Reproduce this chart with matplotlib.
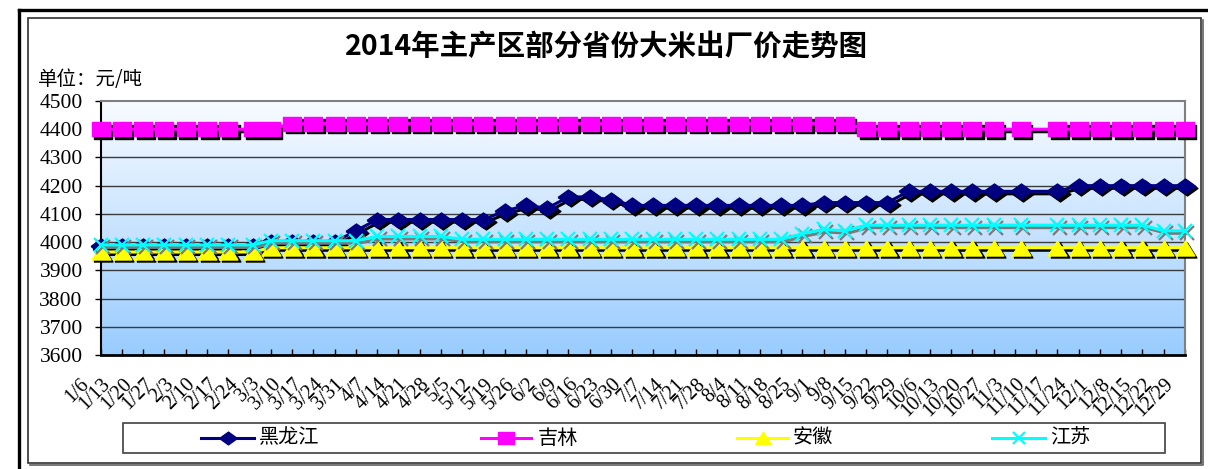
import datetime as dt
import numpy as np
import matplotlib
matplotlib.use('Agg')
import matplotlib.pyplot as plt
from matplotlib.transforms import offset_copy, ScaledTranslation
from matplotlib.lines import Line2D
from matplotlib.patches import Rectangle

plt.rcParams['font.family'] = ['Noto Sans CJK SC', 'DejaVu Sans']

# ---------------- data ----------------
title = '2014年主产区部分省份大米出厂价走势图'
unit_label = '单位：元/吨'
series_names = ['黑龙江', '吉林', '安徽', '江苏']

point_dates = ['1/6', '1/13', '1/20', '1/27', '2/3', '2/10', '2/17', '2/25',
               '3/3', '3/10', '3/17', '3/24', '3/31', '4/7', '4/14', '4/21',
               '4/28', '5/5', '5/12', '5/19', '5/26', '6/2', '6/9', '6/16',
               '6/23', '6/30', '7/7', '7/14', '7/21', '7/28', '8/4', '8/11',
               '8/18', '8/25', '9/1', '9/8', '9/15', '9/22', '9/29', '10/6',
               '10/13', '10/20', '10/27', '11/5', '11/17', '11/24', '12/1',
               '12/8', '12/15', '12/22', '12/29']

heilongjiang = [3985, 3985, 3985, 3985, 3985, 3985, 3985, 3985,
                4000, 4000, 4000, 4000, 4040, 4080, 4080, 4080,
                4080, 4080, 4080, 4110, 4130, 4120, 4160, 4160,
                4150, 4130, 4130, 4130, 4130, 4130, 4130, 4130,
                4130, 4130, 4140, 4140, 4140, 4140, 4180, 4180,
                4180, 4180, 4180, 4180, 4180, 4200, 4200,
                4200, 4200, 4200, 4200]

jilin = [4400, 4400, 4400, 4400, 4400, 4400, 4400, 4400,
         4400, 4420, 4420, 4420, 4420, 4420, 4420, 4420,
         4420, 4420, 4420, 4420, 4420, 4420, 4420, 4420,
         4420, 4420, 4420, 4420, 4420, 4420, 4420, 4420,
         4420, 4420, 4420, 4420, 4400, 4400, 4400, 4400,
         4400, 4400, 4400, 4400, 4400, 4400, 4400,
         4400, 4400, 4400, 4400]

anhui = [3965, 3965, 3965, 3965, 3965, 3965, 3965, 3965,
         3980, 3980, 3980, 3980, 3980, 3980, 3980, 3980,
         3980, 3980, 3980, 3980, 3980, 3980, 3980, 3980,
         3980, 3980, 3980, 3980, 3980, 3980, 3980, 3980,
         3980, 3980, 3980, 3980, 3980, 3980, 3980, 3980,
         3980, 3980, 3980, 3980, 3980, 3980, 3980,
         3980, 3980, 3980, 3980]

jiangsu = [3990, 3990, 3990, 3990, 3990, 3990, 3990, 3990,
           4005, 4005, 4005, 4005, 4005, 4020, 4020, 4020,
           4020, 4010, 4010, 4010, 4010, 4010, 4010, 4010,
           4010, 4010, 4010, 4010, 4010, 4010, 4010, 4010,
           4010, 4030, 4045, 4040, 4060, 4060, 4060, 4060,
           4060, 4060, 4060, 4060, 4060, 4060, 4060,
           4060, 4060, 4040, 4040]

tick_labels = ['1/6', '1/13', '1/20', '1/27', '2/3', '2/10', '2/17', '2/24',
               '3/3', '3/10', '3/17', '3/24', '3/31', '4/7', '4/14', '4/21',
               '4/28', '5/5', '5/12', '5/19', '5/26', '6/2', '6/9', '6/16',
               '6/23', '6/30', '7/7', '7/14', '7/21', '7/28', '8/4', '8/11',
               '8/18', '8/25', '9/1', '9/8', '9/15', '9/22', '9/29', '10/6',
               '10/13', '10/20', '10/27', '11/3', '11/10', '11/17', '11/24',
               '12/1', '12/8', '12/15', '12/22', '12/29']

y_ticks = [3600, 3700, 3800, 3900, 4000, 4100, 4200, 4300, 4400, 4500]


def to_date(s):
    m, d = s.split('/')
    return dt.datetime(2014, int(m), int(d))


x_pts = [to_date(s) for s in point_dates]
x_ticks = [to_date(s) for s in tick_labels]

# ---------------- figure ----------------
W, H = 1208, 469
DPI = 100
fig = plt.figure(figsize=(W / DPI, H / DPI), dpi=DPI)
fig.patch.set_facecolor('white')


def fx(x):
    return x / W


def fy(y):
    return 1 - y / H


L, R, T, B = 100.7, 1185.0, 101.0, 355.0
ax = fig.add_axes([fx(L), fy(B), (R - L) / W, (B - T) / H])

# gradient background of plot area
top_c = np.array([0.975, 0.985, 1.0])
bot_c = np.array([0.60, 0.80, 1.0])
t = np.linspace(0, 1, 256)[:, None]
grad = top_c[None, :] * (1 - t) + bot_c[None, :] * t
grad = np.repeat(grad[:, None, :], 2, axis=1)
ax.imshow(grad, extent=[0, 1, 0, 1], transform=ax.transAxes,
          aspect='auto', zorder=0, interpolation='bilinear')

ax.set_xlim(x_ticks[0], x_ticks[-1])
ax.set_ylim(3600, 4500)

# grid
for yv in y_ticks[1:-1]:
    ax.axhline(yv, color='#3a3a3a', lw=1.0, zorder=1)

# markers
diamond = [(-1, 0), (0, 0.72), (1, 0), (0, -0.72), (-1, 0)]
square = [(-1, -0.8), (1, -0.8), (1, 0.8), (-1, 0.8), (-1, -0.8)]
triangle = [(-1, -0.8), (1, -0.8), (0, 0.8), (-1, -0.8)]

shadow_tr = offset_copy(ax.transData, fig=fig, x=2.5, y=-2.5, units='dots')

styles = [
    (heilongjiang, '#000080', diamond, 15.0, 2.2, 'black', 1.0),
    (jilin, '#FF00FF', square, 13.0, 2.2, 'black', 1.0),
    (anhui, '#FFFF00', triangle, 13.5, 2.2, 'black', 1.0),
    (jiangsu, '#00FFFF', 'x', 10.0, 2.2, '#7a7a7a', 1.6),
]

z = 3
for vals, col, mk, ms, lw, sh, mew in styles:
    ax.plot(x_pts, vals, color=sh, lw=lw, marker=mk, ms=ms, mfc=sh, mec=sh,
            mew=mew, transform=shadow_tr, zorder=z, clip_on=False)
    ax.plot(x_pts, vals, color=col, lw=lw, marker=mk, ms=ms, mfc=col, mec=col,
            mew=mew, zorder=z + 0.5, clip_on=False)
    z += 1

# spines
for s in ['top', 'right']:
    ax.spines[s].set_color('#808080')
    ax.spines[s].set_linewidth(1.5)
ax.spines['left'].set_color('black')
ax.spines['left'].set_linewidth(1.5)
ax.spines['bottom'].set_color('black')
ax.spines['bottom'].set_linewidth(2.0)
for s in ax.spines.values():
    s.set_zorder(2)

# y axis
ax.set_yticks(y_ticks)
ax.set_yticklabels([str(v) for v in y_ticks])
ax.tick_params(axis='y', direction='out', length=4, width=1, pad=9,
               labelsize=15.5)
for lbl in ax.get_yticklabels():
    lbl.set_fontfamily(['Liberation Serif', 'DejaVu Serif'])

# x axis
ax.set_xticks(x_ticks)
ax.set_xticklabels(tick_labels)
ax.tick_params(axis='x', direction='in', length=4, width=1, pad=14,
               labelsize=14.5)
fig.canvas.draw()
xoff = ScaledTranslation(-21 / DPI, 0, fig.dpi_scale_trans)
for lbl in ax.get_xticklabels():
    lbl.set_fontfamily(['Liberation Serif', 'DejaVu Serif'])
    lbl.set_rotation(45)
    lbl.set_rotation_mode('anchor')
    lbl.set_ha('right')
    lbl.set_va('top')
    lbl.set_transform(lbl.get_transform() + xoff)

# title and unit
fig.text(fx(607), fy(47), title, ha='center', va='center', fontsize=20.5,
         fontweight='bold')
fig.text(fx(38), fy(80), unit_label, ha='left', va='center', fontsize=14)

# frames
fig.add_artist(Line2D([fx(19), fx(19)], [fy(469), fy(10)], color='black',
                      lw=2.4, transform=fig.transFigure))
fig.add_artist(Line2D([fx(19), fx(1208)], [fy(10), fy(10)], color='black',
                      lw=2.4, transform=fig.transFigure))
fig.add_artist(Rectangle((fx(28), fy(463)), fx(1201) - fx(28),
                         fy(18) - fy(463), fill=False, ec='#303030', lw=1.2,
                         transform=fig.transFigure))
fig.add_artist(Line2D([fx(30), fx(1203), fx(1203)],
                      [fy(465), fy(465), fy(20)], color='#606060',
                      lw=1.2, transform=fig.transFigure))

# legend (manual)
fig.add_artist(Rectangle((fx(123), fy(453)), fx(1165) - fx(123),
                         fy(423) - fy(453), fill=True, fc='white',
                         ec='#404040', lw=1.2, transform=fig.transFigure))
leg_y = 438
leg_entries = [(201, 254, 259), (481, 531, 538), (737, 788, 793),
               (992, 1045, 1050)]
for (x1, x2, xt), name, (vals, col, mk, ms, lw, sh, mew) in zip(
        leg_entries, series_names, styles):
    fig.add_artist(Line2D([fx(x1), fx(x2)], [fy(leg_y), fy(leg_y)],
                          color=col, lw=lw, transform=fig.transFigure))
    fig.add_artist(Line2D([fx((x1 + x2) / 2)], [fy(leg_y)], color=col,
                          marker=mk, ms=ms * 0.85, mfc=col, mec=col, mew=mew,
                          transform=fig.transFigure))
    fig.text(fx(xt), fy(leg_y), name, ha='left', va='center', fontsize=14.5)

fig.savefig('out.png', dpi=DPI, facecolor='white')
